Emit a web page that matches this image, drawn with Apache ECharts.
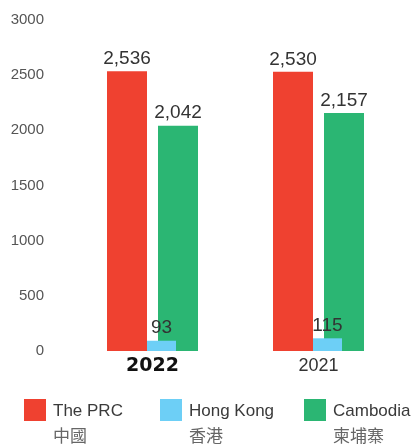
<!DOCTYPE html>
<html>
<head>
<meta charset="utf-8">
<script src="https://cdn.jsdelivr.net/npm/echarts@6/dist/echarts.min.js"></script>
<style>
  html, body { margin: 0; padding: 0; background: #fff; }
  #chart { width: 419px; height: 447px; }
</style>
</head>
<body>
<div id="chart"></div>
<script>
// years shown on the x axis
const years = ['2022', '2021'];
// number per place, same order as years
const prcValues = [2536, 2530];
const hkValues = [93, 115];
const cambodiaValues = [2042, 2157];
// legend names: english / chinese
const seriesNames = ['The PRC', 'Hong Kong', 'Cambodia'];
const seriesNamesZh = ['中國', '香港', '柬埔寨'];

const FONT = '"Liberation Sans", Arial, sans-serif';

const fmt = v => v.toLocaleString('en-US');

const valueLabel = {
    show: true,
    position: 'top',
    distance: 3,
    color: '#333',
    fontSize: 19,
    fontFamily: FONT,
    formatter: p => fmt(p.value)
};

const legendItem = (i, left) => ({
    data: [seriesNames[i]],
    left: left,
    top: 399,
    padding: 0,
    icon: 'rect',
    itemWidth: 22,
    itemHeight: 22,
    itemGap: 0,
    selectedMode: false,
    formatter: name => '{en|' + name + '}\n{zh|' + seriesNamesZh[seriesNames.indexOf(name)] + '}',
    textStyle: {
        padding: [27, 0, 0, 2],
        rich: {
            en: { fontSize: 17, color: '#3a3a3a', fontFamily: FONT, lineHeight: 24 },
            zh: { fontSize: 17, color: '#666', fontFamily: '"Noto Sans CJK TC", sans-serif', lineHeight: 24 }
        }
    }
});

const chart = echarts.init(document.getElementById('chart'));
chart.setOption({
    animation: false,
    grid: { left: 69.5, right: 17.5, top: 20, bottom: 96 },
    legend: [legendItem(0, 24), legendItem(1, 160), legendItem(2, 304)],
    xAxis: [
        {
            type: 'category',
            data: years,
            axisLine: { show: false },
            axisTick: { show: false },
            axisLabel: {
                margin: 6,
                formatter: v => v === '2022' ? '{b|' + v + '}' : '{n|' + v + '}',
                rich: {
                    b: { fontSize: 19, fontWeight: 'bold', color: '#111', fontFamily: '"DejaVu Sans", sans-serif' },
                    n: { fontSize: 18, color: '#333', fontFamily: FONT }
                }
            }
        },
        // hidden twin axis so the Hong Kong bar can sit between the other two
        { type: 'category', data: years, show: false }
    ],
    yAxis: {
        type: 'value',
        min: 0,
        max: 3000,
        interval: 500,
        splitLine: { show: false },
        axisLine: { show: false },
        axisTick: { show: false },
        axisLabel: { margin: 25.5, fontSize: 15, color: '#555', fontFamily: FONT, formatter: v => String(v) }
    },
    series: [
        {
            name: seriesNames[0],
            type: 'bar',
            data: prcValues,
            barWidth: 40,
            barGap: '27.5%',
            itemStyle: { color: '#EF4130' },
            label: valueLabel
        },
        {
            name: seriesNames[2],
            type: 'bar',
            data: cambodiaValues,
            barWidth: 40,
            barGap: '27.5%',
            itemStyle: { color: '#2BB673' },
            label: valueLabel
        },
        {
            name: 'pad',
            type: 'bar',
            xAxisIndex: 1,
            data: ['-', '-'],
            barWidth: 18,
            barGap: 0,
            itemStyle: { color: 'transparent' }
        },
        {
            name: seriesNames[1],
            type: 'bar',
            xAxisIndex: 1,
            data: hkValues,
            barWidth: 29,
            barGap: 0,
            itemStyle: { color: '#6DCFF6' },
            label: valueLabel
        }
    ]
});
</script>
</body>
</html>
